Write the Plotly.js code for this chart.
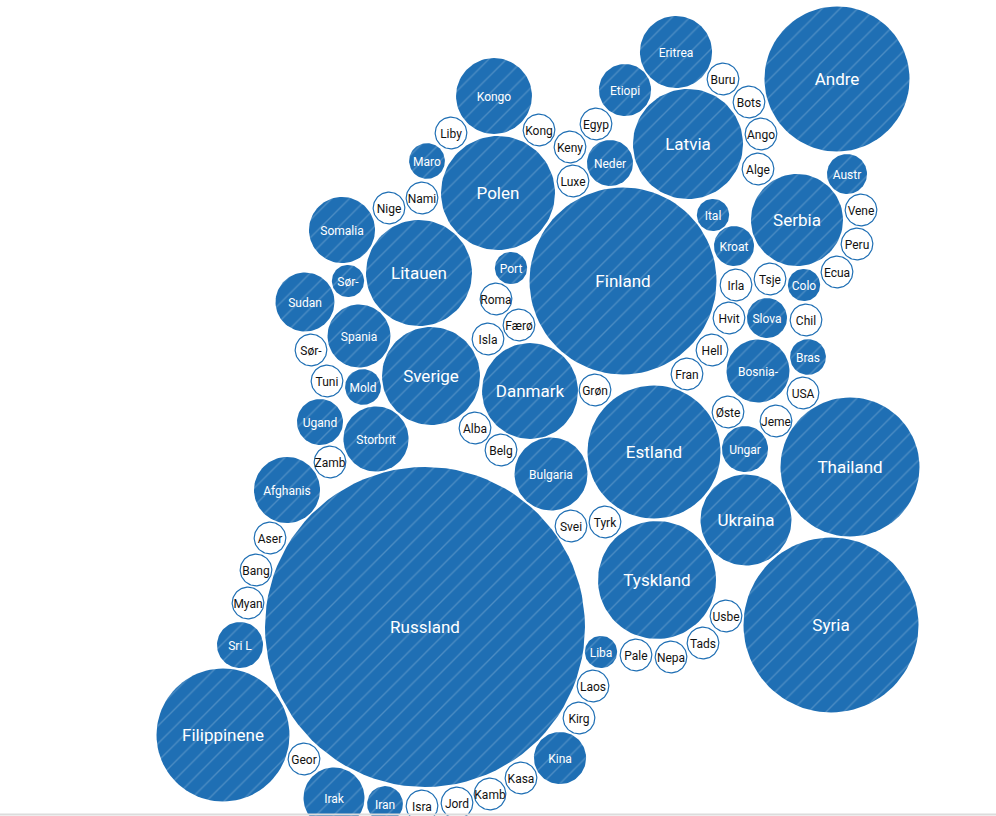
<!DOCTYPE html>
<html>
<head>
<meta charset="utf-8">
<script src="https://cdn.plot.ly/plotly-3.0.1.min.js"></script>
<style>html,body{margin:0;padding:0;background:#fff;overflow:hidden;}</style>
</head>
<body>
<div id="chart" style="width:996px;height:816px;"></div>
<script>
// ---- data ----
const names = [
  "Andre","Eritrea","Etiopi","Latvia","Kongo","Polen","Finland","Neder","Maro","Somalia",
  "Litauen","Sør-","Sudan","Spania","Port","Sverige","Mold","Ugand","Storbrit","Danmark",
  "Bulgaria","Estland","Ital","Kroat","Serbia","Austr","Colo","Slova","Bosnia-","Bras",
  "Ungar","Thailand","Ukraina","Tyskland","Syria","Afghanis","Russland","Sri L","Filippinene","Irak",
  "Iran","Kina","Liba",
  "Buru","Bots","Ango","Alge","Liby","Kong","Egyp","Keny","Luxe","Nami",
  "Nige","Roma","Færø","Isla","Sør-","Tuni","Grøn","Alba","Belg","Zamb",
  "Irla","Tsje","Hvit","Hell","Fran","Chil","Vene","Peru","Ecua","USA",
  "Øste","Jeme","Svei","Tyrk","Aser","Bang","Myan","Usbe","Tads","Pale",
  "Nepa","Laos","Kirg","Kasa","Kamb","Jord","Isra","Geor"
];
const values = [
  526,130,68,303,144,325,874,53,32,109,
  281,26,87,99,26,240,32,53,106,230,
  133,442,26,40,212,40,26,40,99,32,
  53,483,207,348,766,109,2560,53,442,93,
  32,68,26,
  25,25,25,25,25,25,25,25,25,25,
  25,25,25,25,25,25,25,25,25,25,
  25,25,25,25,25,25,25,25,25,25,
  25,25,25,25,25,25,25,25,25,25,
  25,25,25,25,25,25,25,25
];
// 1 = highlighted group (filled), 0 = small group (outlined)
const group = [
  1,1,1,1,1,1,1,1,1,1, 1,1,1,1,1,1,1,1,1,1, 1,1,1,1,1,1,1,1,1,1,
  1,1,1,1,1,1,1,1,1,1, 1,1,1,
  0,0,0,0,0,0,0,0,0,0, 0,0,0,0,0,0,0,0,0,0, 0,0,0,0,0,0,0,0,0,0,
  0,0,0,0,0,0,0,0,0,0, 0,0,0,0,0,0,0,0
];
// ---- packed layout positions (pixel space) ----
const posX = [
  837,676,625,688,494,498,623,610,427,342,
  419,348,305,359,511,431,363,320,376,530,
  551,654,713,734,797,847,804,767,758,808,
  745,850,746,657,831,287,425,240,223,334,
  385,560,601,
  723,749,761,758,451,539,596,570,573,422,
  389,496,519,488,311,327,595,475,501,330,
  736,770,729,712,687,806,861,857,837,803,
  728,776,571,605,270,256,248,726,703,636,
  671,593,579,521,490,457,422,304
];
const posY = [
  79,52,90,144,96,193,281,163,161,230,
  273,281,302,336,268,376,387,422,439,391,
  474,452,215,246,220,174,285,318,371,357,
  449,467,520,580,625,490,627,645,735,798,
  804,758,652,
  79,102,134,169,133,130,124,147,181,198,
  208,299,325,339,350,381,390,428,450,462,
  285,279,318,350,374,320,210,244,272,393,
  412,421,526,522,538,570,603,616,643,655,
  657,686,718,778,794,803,806,759
];

// ---- styles ----
const BLUE = "#1f6fb4";
const RSCALE = Math.sqrt(10); // radius (px) = sqrt(value) * RSCALE

const traces = [];
names.forEach((n, i) => {
  const r = Math.sqrt(values[i]) * RSCALE;
  const xs = [], ys = [];
  const N = 96;
  for (let k = 0; k <= N; k++) {
    const a = 2 * Math.PI * k / N;
    xs.push(posX[i] + r * Math.cos(a));
    ys.push(posY[i] + r * Math.sin(a));
  }
  const isFilled = group[i] === 1;
  const t = {
    type: "scatter", mode: "lines", x: xs, y: ys,
    fill: "toself",
    fillcolor: isFilled ? BLUE : "#ffffff",
    line: {color: BLUE, width: isFilled ? 0 : 1.2},
    hoverinfo: "skip", showlegend: false
  };
  if (isFilled) {
    t.fillpattern = {shape: "/", bgcolor: BLUE, fgcolor: "#ffffff", fgopacity: 0.2, size: 12.5, solidity: 0.11};
  }
  traces.push(t);
});

traces.push({
  type: "scatter", mode: "text",
  x: posX, y: posY.map(v => v + 1.5), text: names,
  textposition: "middle center",
  textfont: {
    family: "Roboto, 'Open Sans', sans-serif",
    size: values.map(v => Math.sqrt(v) * RSCALE >= 44 ? 17 : 12),
    color: group.map(g => g === 1 ? "#ffffff" : "#111111")
  },
  hoverinfo: "skip", showlegend: false
});

const layout = {
  width: 996, height: 816,
  margin: {l: 0, r: 0, t: 0, b: 0, pad: 0},
  paper_bgcolor: "#ffffff", plot_bgcolor: "#ffffff",
  xaxis: {range: [0, 996], visible: false, fixedrange: true},
  yaxis: {range: [816, 0], visible: false, fixedrange: true},
  showlegend: false,
  shapes: [{type: "line", xref: "paper", yref: "y", x0: 0, x1: 1, y0: 814.5, y1: 814.5,
            line: {color: "#dcdcdc", width: 2}, layer: "above"}]
};

Plotly.newPlot("chart", traces, layout, {displayModeBar: false, staticPlot: true});
</script>
</body>
</html>
